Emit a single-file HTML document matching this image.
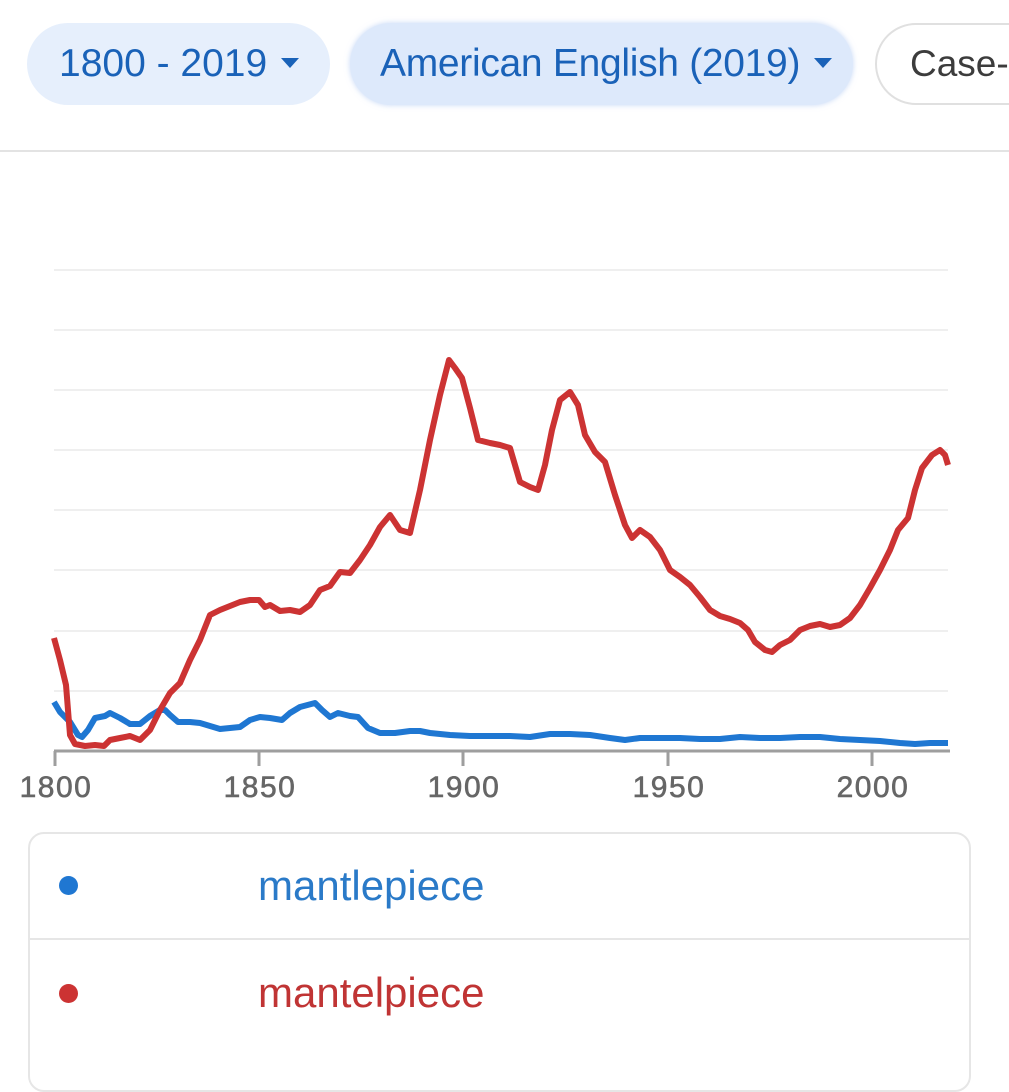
<!DOCTYPE html>
<html><head><meta charset="utf-8"><style>
html,body{margin:0;padding:0;width:1009px;height:1024px;overflow:hidden;background:#fff;font-family:"Liberation Sans",sans-serif;}
.chip{position:absolute;top:23px;height:82px;border-radius:41px;box-sizing:border-box;font-size:39px;line-height:82px;color:#1a62b8;white-space:nowrap;overflow:hidden;}
.tri{display:inline-block;width:0;height:0;border-left:9px solid transparent;border-right:9px solid transparent;border-top:10px solid #1a62b8;vertical-align:middle;margin-left:14px;position:relative;top:-3px;}
</style></head><body>
<div class="chip" style="left:27px;width:303px;background:#e6effc;padding-left:32px;">1800 - 2019<span class="tri"></span></div>
<div class="chip" style="left:350px;width:503px;background:#dde9fb;padding-left:30px;box-shadow:0 0 6px rgba(160,190,240,0.6);letter-spacing:-0.3px;">American English (2019)<span class="tri"></span></div>
<div class="chip" style="left:875px;width:200px;background:#fff;border:2px solid #e0e0e0;padding-left:33px;color:#3c3c3c;line-height:78px;font-size:37px;">Case-I</div>
<div style="position:absolute;left:0;top:150px;width:1009px;height:2px;background:#e3e3e3;"></div>
<svg width="1009" height="1024" style="position:absolute;left:0;top:0" xmlns="http://www.w3.org/2000/svg">
<g stroke="#efefef" stroke-width="2">
<line x1="54" x2="948" y1="270" y2="270"/><line x1="54" x2="948" y1="330" y2="330"/><line x1="54" x2="948" y1="390" y2="390"/><line x1="54" x2="948" y1="450" y2="450"/><line x1="54" x2="948" y1="510" y2="510"/><line x1="54" x2="948" y1="570" y2="570"/><line x1="54" x2="948" y1="631" y2="631"/><line x1="54" x2="948" y1="691" y2="691"/>
</g>
<g stroke="#9e9e9e" stroke-width="3">
<line x1="54" x2="950" y1="751" y2="751"/>
<line x1="55" x2="55" y1="751" y2="766"/><line x1="259" x2="259" y1="751" y2="766"/><line x1="463" x2="463" y1="751" y2="766"/><line x1="668" x2="668" y1="751" y2="766"/><line x1="872" x2="872" y1="751" y2="766"/>
</g>
<g fill="#666" stroke="#666" stroke-width="0.6" font-size="30" letter-spacing="1.5" text-anchor="middle" font-family="Liberation Sans,sans-serif">
<text x="56" y="797">1800</text><text x="260" y="797">1850</text><text x="464" y="797">1900</text><text x="669" y="797">1950</text><text x="873" y="797">2000</text>
</g>
<polyline fill="none" stroke="#1f77d2" stroke-width="6" stroke-linejoin="round" points="54,702 60,712 70,722 78,735 82,737 88,730 95,718 105,716 110,713 120,718 130,724 140,724 150,716 160,710 165,710 170,715 178,722 190,722 200,723 210,726 220,729 230,728 240,727 250,720 260,717 270,718 282,720 290,713 300,707 315,703 322,710 330,717 338,713 350,716 358,717 368,728 380,733 395,733 410,731 420,731 430,733 450,735 470,736 490,736 510,736 530,737 550,734 570,734 590,735 610,738 625,740 640,738 660,738 680,738 700,739 720,739 740,737 760,738 780,738 800,737 820,737 840,739 860,740 880,741 900,743 915,744 930,743 948,743"/>
<polyline fill="none" stroke="#cc3333" stroke-width="6" stroke-linejoin="round" points="54,638 60,660 66,685 70,735 75,744 85,746 95,745 104,746 110,740 120,738 130,736 140,740 150,730 160,710 170,693 180,683 190,660 200,640 210,615 220,610 230,606 240,602 250,600 259,600 265,607 270,605 280,611 290,610 300,612 310,605 320,590 330,586 340,572 350,573 360,560 370,545 380,527 390,515 400,530 410,533 420,490 430,440 440,395 449,360 455,368 462,378 470,408 478,440 490,443 500,445 510,448 520,482 530,487 538,490 545,465 552,430 560,400 570,392 578,405 585,435 595,452 605,462 615,495 625,525 632,538 640,530 650,537 660,550 670,570 680,577 690,585 700,597 710,610 720,616 730,619 740,623 748,630 755,642 765,650 772,652 780,645 790,640 800,630 810,626 820,624 830,627 840,625 850,618 860,605 870,588 880,570 890,550 898,530 908,518 915,490 922,468 932,455 940,450 945,455 948,465"/>
</svg>
<div style="position:absolute;left:28px;top:832px;width:943px;height:260px;border:2px solid #e6e6e6;border-radius:16px;box-sizing:border-box;"></div>
<div style="position:absolute;left:28px;top:938px;width:943px;height:2px;background:#e6e6e6;"></div>
<div style="position:absolute;left:59px;top:876px;width:19px;height:19px;border-radius:50%;background:#1f77d2;"></div>
<div style="position:absolute;left:59px;top:984px;width:19px;height:19px;border-radius:50%;background:#cc3333;"></div>
<div style="position:absolute;left:258px;top:860px;font-size:42px;color:#2a7ac8;line-height:52px;">mantlepiece</div>
<div style="position:absolute;left:258px;top:967px;font-size:42px;color:#c03434;line-height:52px;">mantelpiece</div>
</body></html>
